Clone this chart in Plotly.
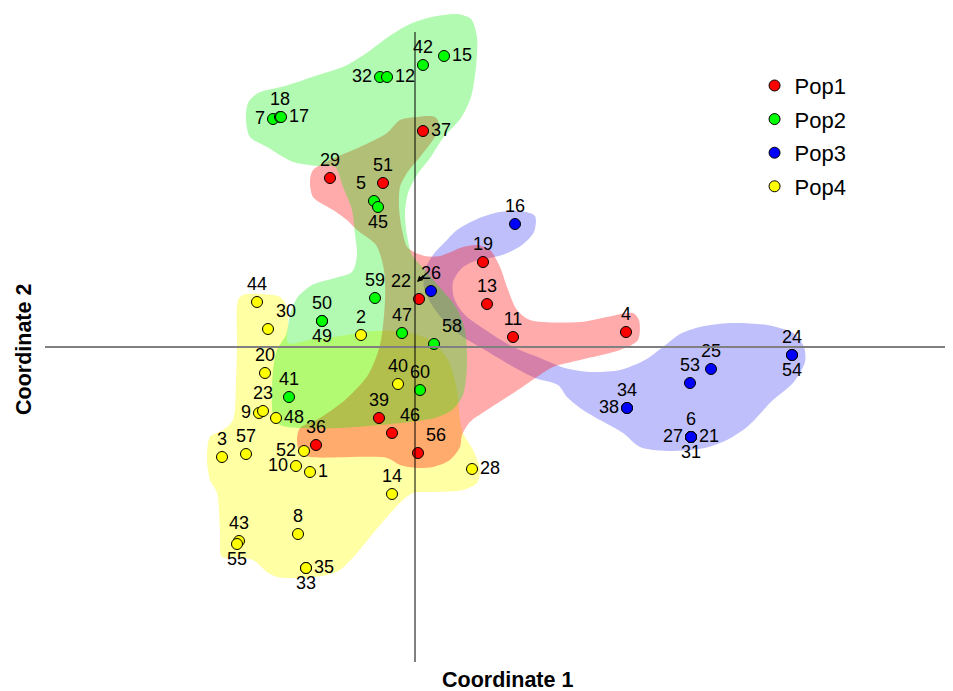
import plotly.graph_objects as go

# ---------------- data (Coordinate 1 / Coordinate 2) ----------------
POP1_ID = [37, 29, 51, 19, 13, 11, 4, 22, 39, 46, 36, 56]
POP1_X = [0.08, -0.85, -0.32, 0.68, 0.72, 0.98, 2.11, 0.04, -0.36, -0.23, -0.99, 0.03]
POP1_Y = [2.16, 1.69, 1.64, 0.85, 0.43, 0.10, 0.15, 0.48, -0.71, -0.86, -0.98, -1.06]

POP2_ID = [42, 15, 32, 12, 7, 18, 17, 5, 45, 59, 50, 49, 47, 58, 60, 41]
POP2_X = [0.08, 0.29, -0.35, -0.28, -1.42, -1.35, -1.34, -0.41, -0.37, -0.40, -0.93, -0.93, -0.13, 0.19, 0.05, -1.26]
POP2_Y = [2.82, 2.91, 2.70, 2.70, 2.28, 2.30, 2.30, 1.46, 1.40, 0.49, 0.26, 0.26, 0.14, 0.03, -0.43, -0.50]

POP3_ID = [16, 26, 24, 54, 25, 53, 34, 38, 6, 27, 21, 31]
POP3_X = [1.00, 0.16, 3.77, 3.77, 2.96, 2.75, 2.12, 2.12, 2.76, 2.76, 2.76, 2.76]
POP3_Y = [1.23, 0.56, -0.08, -0.08, -0.22, -0.36, -0.61, -0.61, -0.90, -0.90, -0.90, -0.90]

POP4_ID = [44, 30, 2, 20, 40, 9, 23, 48, 3, 57, 52, 10, 1, 28, 14, 8, 43, 55, 33, 35]
POP4_X = [-1.58, -1.47, -0.54, -1.50, -0.17, -1.56, -1.52, -1.39, -1.93, -1.69, -1.11, -1.19, -1.05, 0.57, -0.23, -1.17, -1.76, -1.78, -1.09, -1.09]
POP4_Y = [0.45, 0.18, 0.12, -0.26, -0.37, -0.66, -0.64, -0.71, -1.10, -1.07, -1.04, -1.19, -1.25, -1.22, -1.47, -1.87, -1.94, -1.97, -2.21, -2.21]

# group envelopes (hand-drawn hulls)
HULL1_X = [-1.02, -0.85, -0.55, -0.28, -0.15, 0.02, 0.20, 0.25, 0.18, 0.05, -0.08, -0.15, -0.16, -0.13, -0.07, 0.10, 0.25, 0.48, 0.62, 0.75, 0.85, 0.92, 1.02, 1.15, 1.65, 1.92, 2.18, 2.24, 2.23, 2.05, 1.65, 1.38, 1.22, 1.00, 0.75, 0.55, 0.47, 0.45, 0.35, 0.18, 0.02, -0.15, -0.28, -1.05, -1.15, -1.18, -1.15, -0.95, -0.70, -0.47, -0.35, -0.30, -0.31, -0.39, -0.58, -0.68, -0.82, -1.02, -1.05]
HULL1_Y = [1.77, 1.87, 2.00, 2.14, 2.27, 2.30, 2.30, 2.20, 2.07, 1.90, 1.74, 1.60, 1.40, 1.17, 0.99, 0.91, 0.91, 1.00, 1.02, 0.97, 0.80, 0.60, 0.37, 0.27, 0.25, 0.30, 0.34, 0.27, 0.07, -0.03, -0.13, -0.20, -0.30, -0.45, -0.61, -0.75, -0.88, -1.00, -1.13, -1.20, -1.21, -1.18, -1.11, -1.10, -1.06, -0.93, -0.81, -0.71, -0.53, -0.28, 0.02, 0.47, 0.77, 1.02, 1.17, 1.27, 1.37, 1.50, 1.67]

HULL2_X = [-1.67, -1.57, -1.30, -1.00, -0.70, -0.47, -0.27, -0.05, 0.17, 0.42, 0.56, 0.62, 0.61, 0.56, 0.46, 0.28, 0.15, 0.02, -0.07, -0.10, -0.08, -0.03, 0.10, 0.27, 0.41, 0.50, 0.52, 0.48, 0.37, 0.20, -0.05, -0.35, -0.75, -1.15, -1.35, -1.42, -1.43, -1.42, -1.38, -1.29, -1.25, -1.18, -1.03, -0.80, -0.63, -0.58, -0.60, -0.63, -0.72, -0.80, -0.97, -1.22, -1.48, -1.65, -1.69]
HULL2_Y = [2.44, 2.54, 2.61, 2.71, 2.81, 2.95, 3.10, 3.23, 3.30, 3.33, 3.28, 3.10, 2.80, 2.50, 2.29, 2.09, 1.89, 1.72, 1.54, 1.34, 1.12, 0.92, 0.77, 0.57, 0.40, 0.17, -0.18, -0.48, -0.63, -0.71, -0.75, -0.78, -0.81, -0.81, -0.78, -0.68, -0.48, -0.23, -0.03, 0.12, 0.32, 0.49, 0.62, 0.69, 0.75, 0.92, 1.12, 1.37, 1.60, 1.80, 1.81, 1.85, 2.00, 2.10, 2.27]

HULL3_X = [0.30, 0.42, 0.60, 0.80, 1.05, 1.20, 1.19, 1.07, 0.90, 0.75, 0.60, 0.47, 0.38, 0.39, 0.49, 0.72, 0.98, 1.25, 1.50, 1.75, 2.05, 2.30, 2.48, 2.65, 2.85, 3.15, 3.52, 3.78, 3.89, 3.90, 3.78, 3.58, 3.32, 3.12, 2.90, 2.52, 2.25, 2.08, 1.85, 1.68, 1.52, 1.43, 1.20, 0.95, 0.70, 0.48, 0.30, 0.17, 0.09, 0.10, 0.18]
HULL3_Y = [1.05, 1.17, 1.27, 1.34, 1.36, 1.31, 1.15, 1.02, 0.93, 0.89, 0.86, 0.79, 0.65, 0.49, 0.33, 0.16, 0.00, -0.11, -0.21, -0.25, -0.23, -0.13, 0.00, 0.13, 0.20, 0.24, 0.22, 0.14, 0.00, -0.15, -0.36, -0.53, -0.80, -0.93, -1.01, -1.04, -1.00, -0.86, -0.73, -0.63, -0.50, -0.38, -0.31, -0.18, -0.03, 0.10, 0.25, 0.42, 0.59, 0.77, 0.92]

HULL4_X = [-1.77, -1.72, -1.55, -1.35, -1.28, -1.27, -1.27, -1.05, -0.75, -0.40, -0.10, 0.15, 0.33, 0.42, 0.45, 0.48, 0.58, 0.65, 0.62, 0.48, 0.18, -0.02, -0.12, -0.28, -0.45, -0.58, -0.75, -0.88, -1.15, -1.38, -1.48, -1.62, -1.82, -1.93, -1.95, -1.98, -2.05, -2.08, -2.05, -1.92, -1.82, -1.79, -1.78]
HULL4_Y = [0.47, 0.52, 0.53, 0.50, 0.40, 0.22, 0.04, 0.07, 0.11, 0.16, 0.15, 0.07, -0.13, -0.43, -0.73, -0.86, -1.03, -1.23, -1.36, -1.43, -1.45, -1.46, -1.53, -1.70, -1.90, -2.06, -2.23, -2.28, -2.31, -2.30, -2.25, -2.13, -2.10, -2.10, -1.83, -1.46, -1.33, -1.13, -0.90, -0.83, -0.73, -0.33, 0.00]

NAMES = ["Pop1", "Pop2", "Pop3", "Pop4"]
COLORS = ["#FF0000", "#00FF00", "#0000FF", "#FFFF00"]
HULL_FILLS = ["rgba(255,0,0,0.33)", "rgba(0,240,0,0.30)", "rgba(0,0,240,0.25)", "rgba(255,255,0,0.36)"]

LABEL_POS = {
    37: "middle right", 29: "top center", 51: "top center", 19: "top center", 13: "top center",
    11: "top center", 4: "top center", 22: "top left", 39: "top center", 46: "top right",
    36: "top center", 56: "top right",
    42: "top center", 15: "middle right", 32: "middle left", 12: "middle right", 7: "middle left",
    17: "middle right", 18: "top center", 5: "top left", 45: "bottom center", 59: "top center",
    50: "top center", 49: "bottom center", 47: "top center", 58: "top right", 60: "top center",
    41: "top center",
    16: "top center", 26: "top center", 24: "top center", 54: "bottom center", 25: "top center",
    53: "top center", 34: "top center", 38: "middle left", 6: "top center", 27: "middle left",
    21: "middle right", 31: "bottom center",
    44: "top center", 30: "top right", 2: "top center", 20: "top center", 40: "top center",
    9: "middle left", 23: "top center", 48: "middle right", 3: "top center", 57: "top center",
    52: "middle left", 10: "middle left", 1: "middle right", 28: "middle right", 14: "top center",
    8: "top center", 43: "top center", 55: "bottom center", 33: "bottom center", 35: "middle right",
}

FONT = "Liberation Sans, Arial, sans-serif"

fig = go.Figure()

# envelopes: yellow, blue, red, green (drawing order)
hulls = [(HULL4_X, HULL4_Y, 3), (HULL3_X, HULL3_Y, 2), (HULL1_X, HULL1_Y, 0), (HULL2_X, HULL2_Y, 1)]
for hx, hy, k in hulls:
    fig.add_trace(go.Scatter(
        x=hx + [hx[0]], y=hy + [hy[0]], mode="lines", fill="toself",
        fillcolor=HULL_FILLS[k], line=dict(width=0, shape="spline", smoothing=0.8),
        hoverinfo="skip", showlegend=False))

pops = [(POP1_ID, POP1_X, POP1_Y), (POP2_ID, POP2_X, POP2_Y),
        (POP3_ID, POP3_X, POP3_Y), (POP4_ID, POP4_X, POP4_Y)]
for k, (ids, xs, ys) in enumerate(pops):
    fig.add_trace(go.Scatter(
        x=xs, y=ys, mode="markers+text", name=NAMES[k], legendgroup=NAMES[k],
        text=[str(i) for i in ids], textposition=[LABEL_POS[i] for i in ids],
        textfont=dict(family=FONT, size=18, color="black"),
        marker=dict(size=11, color=COLORS[k], line=dict(color="black", width=1)),
        cliponaxis=False))

# the page body has an 8 px margin; ranges account for it
XR = [-4.07, 5.38]
YR = [-3.44, 3.39]

# axis cross lines
fig.add_shape(type="line", x0=-3.70, x1=XR[1], y0=0, y1=0, line=dict(color="#808080", width=2), layer="above")
fig.add_shape(type="line", x0=0, x1=0, y0=-3.15, y1=3.15, line=dict(color="black", width=1), layer="above")

# small leader mark between labels 22 and 26
fig.add_annotation(x=POP1_X[7], y=POP1_Y[7], xref="x", yref="y", text="", showarrow=True,
                   xshift=-2, yshift=17, ax=8, ay=-8, arrowhead=2, arrowsize=0.8,
                   arrowwidth=1.5, arrowcolor="black", standoff=0)

fig.add_annotation(text="<b>Coordinate 1</b>", xref="paper", yref="paper", x=0.5286, y=0.0161,
                   showarrow=False, font=dict(family=FONT, size=21.5, color="black"),
                   xanchor="center", yanchor="middle")
fig.add_annotation(text="<b>Coordinate 2</b>", xref="paper", yref="paper", x=0.0169, y=0.5007,
                   showarrow=False, textangle=-90, font=dict(family=FONT, size=21.5, color="black"),
                   xanchor="center", yanchor="middle")

fig.update_layout(
    width=945, height=683,
    margin=dict(l=0, r=0, t=0, b=0),
    paper_bgcolor="white", plot_bgcolor="white",
    xaxis=dict(range=XR, visible=False, fixedrange=True),
    yaxis=dict(range=YR, visible=False, fixedrange=True),
    legend=dict(x=0.790, y=0.917, xanchor="left", yanchor="top",
                font=dict(family=FONT, size=22, color="black"),
                tracegroupgap=2, itemwidth=30, bgcolor="rgba(0,0,0,0)"),
    font=dict(family=FONT),
)

fig.write_html("out.html")
